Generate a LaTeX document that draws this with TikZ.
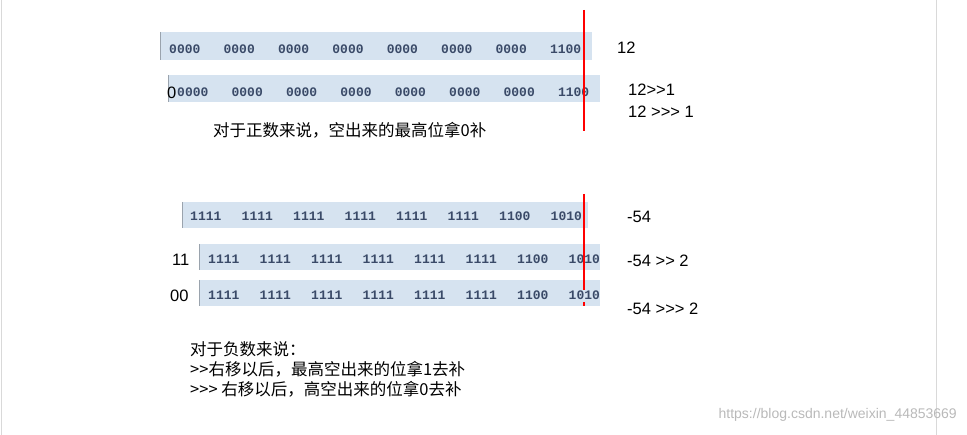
\documentclass[tikz,border=0pt]{standalone}
\usepackage{fontspec}
\setmainfont{Liberation Sans}[Ligatures=TeXOff]
\newfontfamily\cjk{Noto Sans CJK SC}[Ligatures=TeXOff]
\newfontfamily\monof{Liberation Mono}
\definecolor{barbg}{HTML}{D6E3F0}
\definecolor{bits}{HTML}{3A4A68}
\definecolor{edge}{HTML}{9AA3AD}
\tikzset{x=1pt,y=-1pt,
 bar/.style={fill=barbg,draw=none},
 bit/.style={font=\monof\bfseries\fontsize{13}{14}\selectfont,text=bits,anchor=west,inner sep=0},
 lbl/.style={font=\fontsize{16.5}{18}\selectfont,anchor=west,inner sep=0},
 cn/.style={font=\cjk\fontsize{16.5}{18}\selectfont,anchor=west,inner sep=0},
 redl/.style={red,line width=2.2pt}}
\begin{document}
\begin{tikzpicture}
\useasboundingbox (0,0) rectangle (967,435);
\draw[gray!30] (1,0) -- (1,435) (936,0) -- (936,435);
% bar 1
\fill[bar] (160,32) rectangle (592,60);
\draw[edge,line width=1pt] (160,32) -- (160,60);
\foreach \i/\t in {0/0000,1/0000,2/0000,3/0000,4/0000,5/0000,6/0000,7/1100}
  \node[bit] (a\i) at (169+54.4*\i,49) {\t};
% bar 2
\fill[bar] (168,75) rectangle (600,102);
\draw[edge,line width=1pt] (168,75) -- (168,102);
\node[lbl] (z0) at (167,93) {0};
\foreach \i/\t in {0/0000,1/0000,2/0000,3/0000,4/0000,5/0000,6/0000,7/1100}
  \node[bit] (b\i) at (177+54.4*\i,92) {\t};
\coordinate (r1t) at (584,10); \coordinate (r1b) at (584,131);
\draw[redl] (r1t) -- (r1b);
\node[lbl] (l1) at (617,48) {12};
\node[lbl] (l2) at (628,90) {12>>1};
\node[lbl] (l3) at (628,112) {12 >>> 1};
\node[cn] (c1) at (213,130) {对于正数来说，空出来的最高位拿0补};
% lower bars
\fill[bar] (182,202) rectangle (588,228);
\draw[edge,line width=1pt] (182,202) -- (182,228);
\fill[bar] (199,244) rectangle (600,270);
\draw[edge,line width=1pt] (199,244) -- (199,270);
\fill[bar] (199,280) rectangle (600,306);
\draw[edge,line width=1pt] (199,280) -- (199,306);
\foreach \i/\t in {0/1111,1/1111,2/1111,3/1111,4/1111,5/1111,6/1100,7/1010}{
  \node[bit] (p\i) at (190+51.5*\i,216) {\t};
  \node[bit] (q\i) at (208+51.5*\i,259) {\t};
  \node[bit] (s\i) at (208+51.5*\i,295) {\t};}
\node[lbl] (n11) at (172,260) {11};
\node[lbl] (n00) at (170,296) {00};
\coordinate (r2t) at (584,194); \coordinate (r2b) at (584,290);
\draw[redl] (r2t) -- (r2b);
\draw[redl] (584,302) -- (584,306);
\node[lbl] (m1) at (627,217) {-54};
\node[lbl] (m2) at (627,261) {-54 >> 2};
\node[lbl] (m3) at (627,309) {-54 >>> 2};
\node[cn] (d1) at (190,349) {对于负数来说：};
\node[cn] (d2) at (190,369) {>>右移以后，最高空出来的位拿1去补};
\node[cn] (d3) at (190,389) {>>> 右移以后，高空出来的位拿0去补};
\node[font=\fontsize{14}{16}\selectfont,text=gray!55,anchor=east,inner sep=0] (w) at (957,415) {https://blog.csdn.net/weixin\_44853669};
\end{tikzpicture}
\end{document}
